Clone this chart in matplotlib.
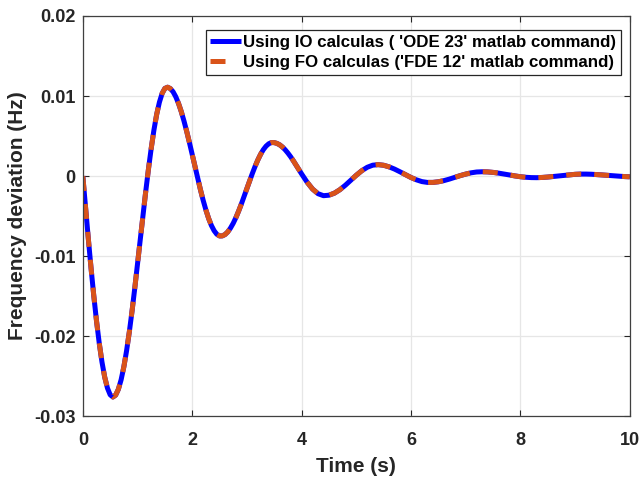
import numpy as np
import matplotlib
matplotlib.use("Agg")
import matplotlib.pyplot as plt
from matplotlib import font_manager
from matplotlib.lines import Line2D

# ---- data ----
t_fine = np.round(np.arange(0, 4.0001, 0.05), 2)
t_coarse = np.round(np.arange(4.1, 10.0001, 0.1), 2)
time_s = np.concatenate([t_fine, t_coarse])

freq_dev_fine = [
    0.0, -0.00393, -0.00777, -0.01147, -0.01492, -0.01808, -0.02086, -0.02322,
    -0.02511, -0.02648, -0.02732, -0.02760, -0.02736, -0.02663, -0.02545, -0.02383,
    -0.02182, -0.01947, -0.01685, -0.01399, -0.01100, -0.00794, -0.00489, -0.00193,
    0.00087, 0.00345, 0.00575, 0.00770, 0.00922, 0.01033, 0.01095, 0.01110,
    0.01093, 0.01053, 0.00990, 0.00907, 0.00805, 0.00687, 0.00556, 0.00416,
    0.00269, 0.00120, -0.00027, -0.00169, -0.00302, -0.00423, -0.00529, -0.00616,
    -0.00682, -0.00727, -0.00748, -0.00747, -0.00730, -0.00697, -0.00649, -0.00589,
    -0.00517, -0.00435, -0.00346, -0.00252, -0.00155, -0.00059, 0.00034, 0.00122,
    0.00202, 0.00272, 0.00330, 0.00374, 0.00404, 0.00419, 0.00418, 0.00408,
    0.00390, 0.00363, 0.00328, 0.00287, 0.00241, 0.00190, 0.00136, 0.00081,
    0.00027,
]
freq_dev_coarse = [
    -0.00076, -0.00162, -0.00220, -0.00245, -0.00239, -0.00213, -0.00170, -0.00114,
    -0.00052, 0.00011, 0.00067, 0.00110, 0.00136, 0.00143, 0.00135, 0.00115,
    0.00087, 0.00053, 0.00017, -0.00018, -0.00047, -0.00069, -0.00079, -0.00079,
    -0.00071, -0.00057, -0.00038, -0.00016, 0.00006, 0.00025, 0.00041, 0.00051,
    0.00054, 0.00052, 0.00046, 0.00037, 0.00026, 0.00014, 0.00002, -0.00008,
    -0.00015, -0.00019, -0.00020, -0.00017, -0.00012, -0.00005, 0.00003, 0.00010,
    0.00017, 0.00022, 0.00025, 0.00025, 0.00023, 0.00019, 0.00014, 0.00009,
    0.00003, -0.00002, -0.00006, -0.00009,
]
io_values = np.array(freq_dev_fine + freq_dev_coarse)
fo_values = np.array(freq_dev_fine + freq_dev_coarse)

x_ticks = [0, 2, 4, 6, 8, 10]
y_ticks = [-0.03, -0.02, -0.01, 0, 0.01, 0.02]
y_tick_labels = ["-0.03", "-0.02", "-0.01", "0", "0.01", "0.02"]
io_label = "Using IO calculas ( 'ODE 23' matlab command)"
fo_label = "Using FO calculas ('FDE 12' matlab command)"

# ---- style ----
avail = {f.name for f in font_manager.fontManager.ttflist}
fam = [f for f in ["Liberation Sans Narrow", "Liberation Sans", "DejaVu Sans"] if f in avail]
plt.rcParams["font.family"] = fam
plt.rcParams["font.weight"] = "bold"

fig = plt.figure(figsize=(6.42, 4.84), dpi=100)
ax = fig.add_axes([0.129, 0.140, 0.852, 0.827])

io_line, = ax.plot(time_s, io_values, color="#0000FF", lw=3.6, label=io_label,
                   solid_capstyle="butt")
ax.plot(time_s, fo_values, color="#D95319", lw=3.6, label=fo_label,
        dashes=(3.0, 2.6), dash_capstyle="butt")
fo_handle = Line2D([], [], color="#D95319", lw=3.6, dashes=(3.0, 6.0),
                   dash_capstyle="butt", label=fo_label)

ax.set_xlim(0, 10)
ax.set_ylim(-0.03, 0.02)
ax.set_xticks(x_ticks)
ax.set_yticks(y_ticks)
ax.set_yticklabels(y_tick_labels)
ax.grid(True, color="#E6E6E6", lw=0.9)
ax.set_axisbelow(True)
ax.tick_params(direction="in", top=True, right=True, length=4, width=0.8,
               labelsize=13, colors="#262626")
ax.tick_params(axis="y", pad=5)
ax.tick_params(axis="x", pad=11)
for lab in ax.get_xticklabels() + ax.get_yticklabels():
    lab.set_fontweight("bold")
for s in ax.spines.values():
    s.set_color("#404040")
    s.set_linewidth(0.9)

ax.set_xlabel("Time (s)", fontsize=15, fontweight="bold", color="#262626", labelpad=6)
ax.set_ylabel("Frequency deviation (Hz)", fontsize=15, fontweight="bold", color="#262626", labelpad=5)

leg = ax.legend(handles=[io_line, fo_handle], loc="upper right",
                bbox_to_anchor=(0.984, 0.965),
                prop={"weight": "bold", "size": 12.2},
                frameon=True, fancybox=False, handlelength=1.8, handletextpad=0.15,
                borderpad=0.28, labelspacing=0.3, borderaxespad=0.0)
leg.get_frame().set_edgecolor("#262626")
leg.get_frame().set_linewidth(0.9)
leg.get_frame().set_alpha(1)

fig.savefig("out.png", dpi=100)
